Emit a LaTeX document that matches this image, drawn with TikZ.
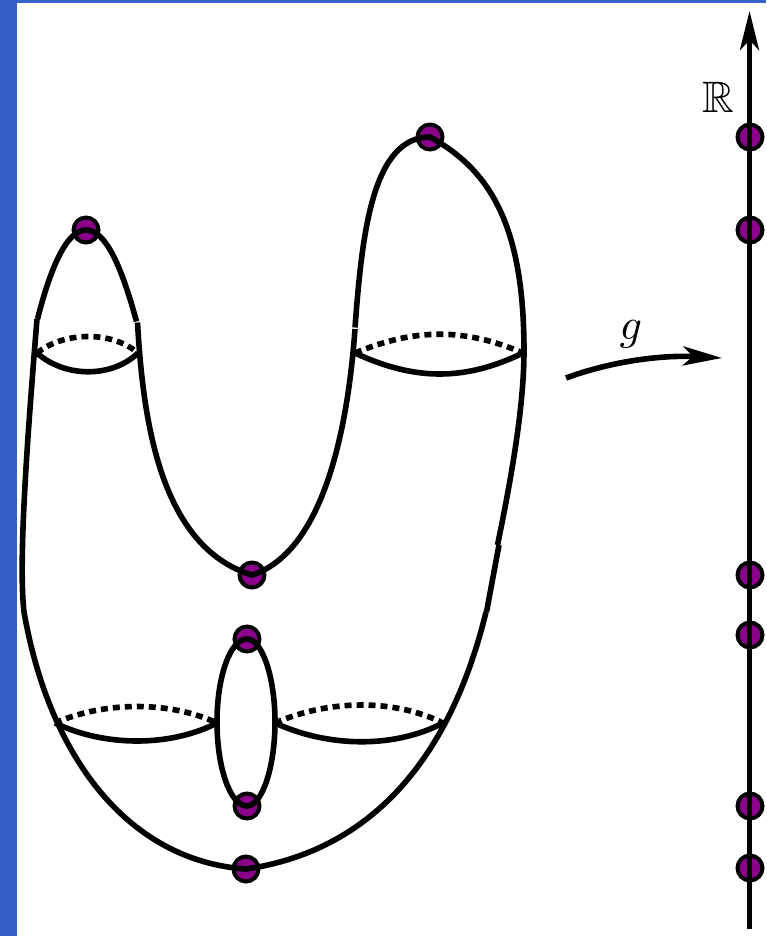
\documentclass[tikz,border=0pt]{standalone}
\usepackage{amsmath,amssymb,mathtools}
\usepackage{tikz}
\usetikzlibrary{arrows.meta}
\definecolor{barblue}{HTML}{3560C8}
\definecolor{critpurple}{HTML}{8B008B}
\tikzset{
  crit/.style={circle,draw=black,fill=critpurple,line width=2pt,inner sep=0pt,minimum size=12.5pt},
  surf/.style={line width=2.8pt},
  hid/.style={line width=2.8pt,dash pattern=on 3.5pt off 2.5pt},
  longtip/.style={-{Stealth[length=19.5pt,width=9.5pt,inset=5pt]}},
  biglabel/.style={inner sep=0pt,scale=2.2}
}
\begin{document}
\begin{tikzpicture}[x=0.5pt,y=-0.5pt]
\useasboundingbox (0,0) rectangle (766,936);
\fill[barblue] (0,0) rectangle (17,936);
\fill[barblue] (0,0) rectangle (766,3);
% critical points on the surface
\node[crit] (lobeL) at (86,230) {};
\node[crit] (lobeR) at (430,137) {};
\node[crit] (saddleA) at (252,575) {};
\node[crit] (saddleB) at (247,639) {};
\node[crit] (saddleC) at (247,806) {};
\node[crit] (base) at (246,869) {};
% critical values on the line
\node[crit] (valA) at (750,137) {};
\node[crit] (valB) at (750,230) {};
\node[crit] (valC) at (750,575) {};
\node[crit] (valD) at (750,635) {};
\node[crit] (valE) at (750,806) {};
\node[crit] (valF) at (750,868) {};
% outline
\draw[surf] (37.5,319) .. controls (50,270) and (66,230) .. (lobeL.center) .. controls (106,230) and (122,268) .. (136.5,321.5);
\draw[surf] (137.5,322.5) .. controls (143,420) and (160,547) .. (saddleA.center) .. controls (320,553) and (347,440) .. (355,329);
\draw[surf] (355,327.5) .. controls (362,235) and (372,137) .. (lobeR.center) .. controls (490,170) and (524,225) .. (524,351) .. controls (524,405) and (512,475) .. (497.5,545);
\draw[surf] (499,545) -- (486.5,612);
\draw[surf] (486,612) .. controls (450,760) and (370,851) .. (base.center) .. controls (130,861) and (50,760) .. (24,612);
\draw[surf] (24,612) .. controls (18,560) and (28,430) .. (37,319);
% neck circles
\draw[surf] (37,353) .. controls (65,378) and (112,378) .. (138,353);
\draw[hid] (37,353) .. controls (65,331) and (112,331) .. (138,353);
\draw[surf] (355,353) .. controls (415,381) and (465,381) .. (523,353);
\draw[hid] (355,353) .. controls (415,328) and (465,328) .. (523,353);
\draw[surf] (55,723) .. controls (105,747) and (170,747) .. (217,723);
\draw[hid] (55,723) .. controls (105,701) and (170,701) .. (217,723);
\draw[surf] (275,723) .. controls (330,748) and (395,748) .. (443,723);
\draw[hid] (275,723) .. controls (330,699) and (395,699) .. (443,723);
% hole
\draw[surf] (saddleB.center) .. controls (230,639) and (217,677) .. (217,722) .. controls (217,767) and (230,806) .. (saddleC.center) .. controls (262,806) and (275,767) .. (275,722) .. controls (275,677) and (262,639) .. (saddleB.center) -- cycle;
% the map and the line
\coordinate (mapfrom) at (566,378);
\coordinate (mapto) at (722,358);
\draw[surf,longtip] (mapfrom) .. controls (615,360) and (665,355) .. (mapto);
\coordinate (linefrom) at (749.5,929);
\coordinate (lineto) at (749.5,11);
\draw[surf,longtip] (linefrom) -- (lineto);
\node[biglabel] (gname) at (631,334) {$g$};
\node[biglabel] (linename) at (718.5,97) {$\mathbb{R}$};
\end{tikzpicture}
\end{document}
